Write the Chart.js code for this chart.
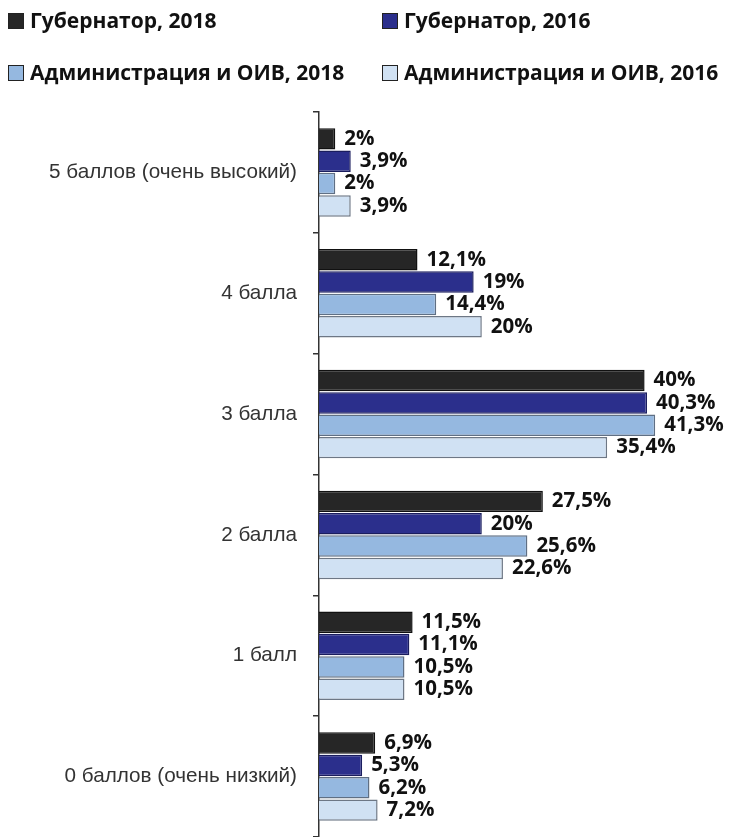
<!DOCTYPE html>
<html>
<head>
<meta charset="utf-8">
<script src="https://cdn.jsdelivr.net/npm/chart.js@4/dist/chart.umd.min.js"></script>
<style>
  body { margin: 0; background: #fff; }
  #wrap { position: relative; width: 734px; height: 837px; }
  #legend { position: absolute; left: 0; top: 0; width: 734px; height: 100px; font-family: "Open Sans", sans-serif; font-weight: bold; font-size: 21px; color: #111; }
  .item { position: absolute; white-space: nowrap; }
  .box { display: inline-block; width: 14px; height: 14px; border: 1px solid #222; margin-right: 6px; vertical-align: -1px; }
</style>
</head>
<body>
<div id="wrap">
  <div id="legend"></div>
  <canvas id="chart" width="734" height="837"></canvas>
</div>
<script>
var categories = ['5 баллов (очень высокий)', '4 балла', '3 балла', '2 балла', '1 балл', '0 баллов (очень низкий)'];
var seriesNames = ['Губернатор, 2018', 'Губернатор, 2016', 'Администрация и ОИВ, 2018', 'Администрация и ОИВ, 2016'];
var gov2018 = [2, 12.1, 40, 27.5, 11.5, 6.9];
var gov2016 = [3.9, 19, 40.3, 20, 11.1, 5.3];
var adm2018 = [2, 14.4, 41.3, 25.6, 10.5, 6.2];
var adm2016 = [3.9, 20, 35.4, 22.6, 10.5, 7.2];
var fills = ['#262626', '#2b2f8c', '#95b8e0', '#d0e1f3'];
var borders = ['#111111', '#1a1d5e', '#5f6f84', '#6d7785'];

// legend in two columns like the original
var legendPos = [[8, 6], [382, 6], [8, 58], [382, 58]];
var legend = document.getElementById('legend');
for (var i = 0; i < seriesNames.length; i++) {
  var d = document.createElement('div');
  d.className = 'item';
  d.style.left = legendPos[i][0] + 'px';
  d.style.top = legendPos[i][1] + 'px';
  d.innerHTML = '<span class="box" style="background:' + fills[i] + '"></span>' + seriesNames[i];
  legend.appendChild(d);
}

function fmt(v) {
  return String(v).replace('.', ',') + '%';
}

var valueLabels = {
  id: 'valueLabels',
  afterDatasetsDraw: function(chart) {
    var ctx = chart.ctx;
    ctx.save();
    ctx.font = 'bold 20.5px "Open Sans", sans-serif';
    ctx.fillStyle = '#111';
    ctx.textBaseline = 'middle';
    ctx.textAlign = 'left';
    chart.data.datasets.forEach(function(ds, i) {
      var meta = chart.getDatasetMeta(i);
      meta.data.forEach(function(bar, j) {
        ctx.fillText(fmt(ds.data[j]), bar.x + 9, bar.y);
      });
    });
    ctx.restore();
  }
};

var seriesData = [gov2018, gov2016, adm2018, adm2016];
var datasets = [];
for (var k = 0; k < seriesData.length; k++) {
  datasets.push({
    label: seriesNames[k],
    data: seriesData[k],
    backgroundColor: fills[k],
    borderColor: borders[k],
    borderWidth: 1.5,
    categoryPercentage: 0.74,
    barPercentage: 0.96
  });
}

new Chart(document.getElementById('chart'), {
  type: 'bar',
  data: { labels: categories, datasets: datasets },
  options: {
    indexAxis: 'y',
    responsive: false,
    animation: false,
    layout: { padding: { top: 112, right: 8, bottom: 0, left: 0 } },
    plugins: { legend: { display: false }, tooltip: { enabled: false } },
    scales: {
      x: { display: false, min: 0, max: 50 },
      y: {
        afterFit: function(scale) {
          scale.width = 319;
          scale.paddingTop = 0;
          scale.paddingBottom = 0;
        },
        border: { display: true, color: '#333', width: 1.5 },
        grid: { offset: true, drawOnChartArea: false, tickLength: 6, color: '#333', lineWidth: 1.5 },
        ticks: { color: '#333', padding: 16, font: { family: '"Liberation Sans", Arial, sans-serif', size: 20.7 } }
      }
    }
  },
  plugins: [valueLabels]
});
</script>
</body>
</html>
